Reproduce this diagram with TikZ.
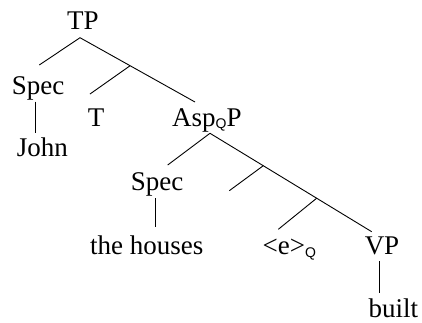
\documentclass[tikz,border=0pt]{standalone}
\usepackage{fontspec}
\setmainfont{Liberation Serif}
\newfontfamily\subfont{Liberation Sans}
\newcommand{\subQ}[1]{\raisebox{-#1}{\subfont\fontsize{14}{16}\selectfont Q}}
\begin{document}
\begin{tikzpicture}[x=1pt,y=-1pt,
  lbl/.style={inner sep=0pt,font=\fontsize{27}{30}\selectfont},
  branch/.style={line width=0.9pt}]
\useasboundingbox (0,0) rectangle (422,322);

% labels (placed on their baselines)
\node[lbl,anchor=base]      (TP)     at (83,29)     {TP};
\node[lbl,anchor=base]      (SpecA)  at (38,94)     {Spec};
\node[lbl,anchor=base]      (John)   at (42.5,156.5){John};
\node[lbl,anchor=base]      (T)      at (96,126)    {T};
\node[lbl,anchor=base west] (AspP)   at (172,126.7) {Asp\subQ{1.5pt}P};
\node[lbl,anchor=base]      (SpecB)  at (157,190)   {Spec};
\node[lbl,anchor=base east] (houses) at (203.5,254) {the houses};
\node[lbl,anchor=base west] (eQ)     at (262.5,254) {<e>\subQ{3.5pt}};
\node[lbl,anchor=base]      (VP)     at (382,254)   {VP};
\node[lbl,anchor=base]      (built)  at (393.3,317) {built};

% branch end points
\coordinate (TPfoot)    at (80,37.7);
\coordinate (SpecAtop)  at (39.3,65);
\coordinate (AspPtop)   at (195,102);
\coordinate (Tbar)      at (130,65.8);
\coordinate (Ttop)      at (90,94);
\coordinate (SpecAfoot) at (35.7,101.7);
\coordinate (Johntop)   at (35.7,132.7);
\coordinate (AspPfoot)  at (210,133.3);
\coordinate (SpecBtop)  at (167.7,165);
\coordinate (VPtop)     at (371.7,231.7);
\coordinate (AspBarA)   at (263.3,165.7);
\coordinate (emptyTop)  at (229.3,190.7);
\coordinate (AspBarB)   at (316.7,198.2);
\coordinate (eQtop)     at (278.3,229.3);
\coordinate (SpecBfoot) at (155.7,198);
\coordinate (housesTop) at (155.7,226.7);
\coordinate (VPfoot)    at (379.3,261);
\coordinate (builtTop)  at (379.3,292.7);

% branches
\draw[branch] (TPfoot) -- (SpecAtop);
\draw[branch] (TPfoot) -- (AspPtop);
\draw[branch] (Tbar) -- (Ttop);
\draw[branch] (SpecAfoot) -- (Johntop);
\draw[branch] (AspPfoot) -- (SpecBtop);
\draw[branch] (AspPfoot) -- (VPtop);
\draw[branch] (AspBarA) -- (emptyTop);
\draw[branch] (AspBarB) -- (eQtop);
\draw[branch] (SpecBfoot) -- (housesTop);
\draw[branch] (VPfoot) -- (builtTop);
\end{tikzpicture}
\end{document}
